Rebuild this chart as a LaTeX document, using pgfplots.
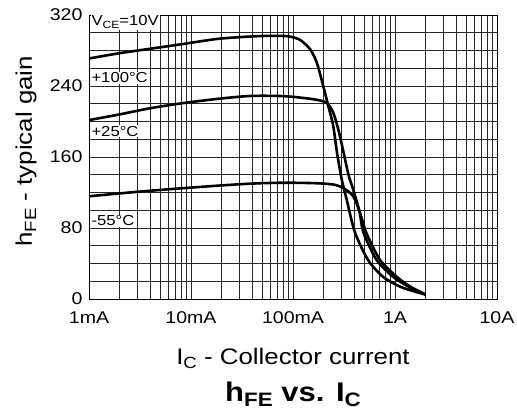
\documentclass[border=0pt]{standalone}
\usepackage{graphicx}
\usepackage{fontspec}
\setmainfont{Liberation Sans}[FakeStretch=1.15]
\usepackage{pgfplots}
\pgfplotsset{compat=1.18}

\newcommand\sub[1]{\raisebox{-0.35ex}{\scalebox{0.72}{#1}}}

% hFE vs IC, VCE = 10 V
\pgfplotstableread{
I      h
0.001  271
0.002  277
0.004  282
0.008  287
0.018  293
0.035  295.5
0.057  296.5
0.090  296
0.117  292
0.147  281.5
0.171  266.5
0.198  240
0.222  217.5
0.248  195
0.270  165
0.300  135
0.336  112
0.405  75
0.544  44
0.763  25
1.12   14
1.50   9
2.00   5
}\hot
\pgfplotstableread{
I      h
0.001  201.6
0.002  208
0.004  215
0.0087 221
0.020  226
0.039  228.8
0.083  228.5
0.160  225
0.214  221
0.248  210
0.278  191
0.312  166
0.350  140
0.390  123
0.450  98
0.490  75
0.660  44
0.960  25
1.40   13
2.00   5
}\room
\pgfplotstableread{
I      h
0.001  115.7
0.002  119
0.004  122
0.0087 125
0.020  128
0.039  130
0.080  131
0.164  130.5
0.248  129
0.311  125
0.390  115.7
0.454  97
0.526  74
0.713  44
1.04   25
1.41   14
2.00   5
}\cold

\begin{document}
\begin{tikzpicture}
\begin{axis}[
  name=ax,
  xmode=log,
  scale only axis,
  width=408pt, height=284pt,
  xmin=0.001, xmax=10,
  ymin=0, ymax=320,
  xtick={0.001,0.01,0.1,1,10},
  xticklabels={1mA,10mA,100mA,1A,10A},
  ytick={0,80,160,240,320},
  yticklabels={0,80,160,240,320},
  minor ytick={20,40,60,100,120,140,180,200,220,260,280,300},
  grid=both,
  major grid style={black!85, line width=0.7pt},
  minor grid style={black!85, line width=0.7pt},
  major tick length=0pt, minor tick length=0pt,
  axis line style={black, line width=0.9pt},
  tick label style={font=\fontsize{17}{19}\selectfont},
  xticklabel style={yshift=-9pt},
  yticklabel style={xshift=-3pt},
  xlabel={I\sub{C} - Collector current},
  xlabel style={at={(axis description cs:0.5,-0.229)}, anchor=base,
    font=\fontsize{22.5}{26}\selectfont},
  ylabel={h\sub{FE} - typical gain},
  ylabel style={at={(axis description cs:-0.14,0.52)}, anchor=base,
    font=\fontsize{22.5}{26}\selectfont},
]
\addplot[black, line width=2.6pt, smooth, tension=0.45, no marks] table[x=I, y=h] {\hot};
\addplot[black, line width=2.6pt, smooth, tension=0.45, no marks] table[x=I, y=h] {\room};
\addplot[black, line width=2.6pt, smooth, tension=0.45, no marks] table[x=I, y=h] {\cold};

\begin{scope}[every node/.style={fill=white, inner sep=1pt, anchor=west,
    font=\fontsize{14.5}{17}\selectfont}]
\node at (axis cs:0.00103,312) {V\sub{CE}=10V};
\node at (axis cs:0.00103,249) {+100°C};
\node at (axis cs:0.00103,189) {+25°C};
\node at (axis cs:0.00103,88) {-55°C};
\end{scope}
\end{axis}
\node[anchor=base, font=\bfseries\fontsize{27}{30}\selectfont]
  at ([yshift=-103pt]ax.south) {h\sub{FE} vs. I\sub{C}};
\pgfresetboundingbox
\path ([shift={(-89pt,-115pt)}]ax.south west) rectangle ([shift={(20pt,15pt)}]ax.north east);
\end{tikzpicture}
\end{document}
